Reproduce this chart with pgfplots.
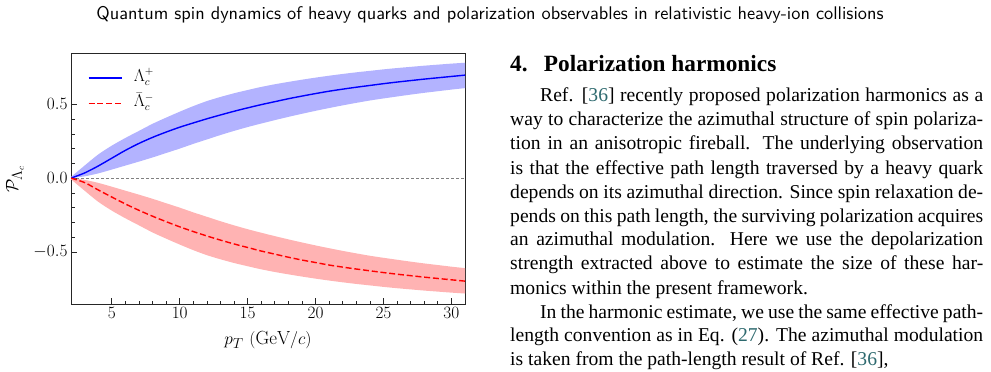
\documentclass[border=0pt]{standalone}
\usepackage{fontspec}
\usepackage{pgfplots}
\pgfplotsset{compat=1.18}
\usepackage{pgfplotstable}
\usepgfplotslibrary{fillbetween}
\newfontfamily\bodyfont{Liberation Serif}
\definecolor{refc}{RGB}{45,105,110}
\definecolor{bandblue}{RGB}{179,179,255}
\definecolor{bandred}{RGB}{255,179,179}
\definecolor{lineblue}{RGB}{0,0,255}
\definecolor{linered}{RGB}{255,0,0}

% Polarization of Lambda_c^+ (c, band lo..hi) and anti-Lambda_c^- (rc, band rlo..rhi)
\pgfplotstableread{
pt  c      lo     hi     rc      rlo     rhi
2   0.000  0.000  0.008  0.000   -0.008  0.000
3   0.035  0.012  0.085  -0.030  -0.085  -0.012
4   0.082  0.032  0.160  -0.080  -0.160  -0.032
5   0.135  0.058  0.220  -0.128  -0.220  -0.058
6   0.188  0.085  0.272  -0.175  -0.272  -0.085
7   0.235  0.112  0.320  -0.218  -0.320  -0.112
8   0.276  0.140  0.368  -0.258  -0.368  -0.140
9   0.312  0.170  0.410  -0.295  -0.410  -0.170
10  0.345  0.200  0.450  -0.330  -0.450  -0.200
11  0.374  0.232  0.488  -0.362  -0.488  -0.232
12  0.402  0.262  0.522  -0.392  -0.522  -0.262
13  0.428  0.292  0.550  -0.420  -0.550  -0.292
14  0.453  0.320  0.575  -0.446  -0.575  -0.320
15  0.476  0.346  0.597  -0.470  -0.597  -0.346
16  0.498  0.370  0.618  -0.494  -0.618  -0.370
17  0.518  0.393  0.636  -0.515  -0.636  -0.393
18  0.538  0.415  0.652  -0.536  -0.652  -0.415
19  0.556  0.436  0.667  -0.555  -0.667  -0.436
20  0.573  0.456  0.681  -0.572  -0.681  -0.456
21  0.589  0.475  0.694  -0.589  -0.694  -0.475
22  0.603  0.493  0.706  -0.603  -0.706  -0.493
23  0.616  0.510  0.717  -0.616  -0.717  -0.510
24  0.628  0.526  0.727  -0.628  -0.727  -0.526
25  0.640  0.540  0.737  -0.640  -0.737  -0.540
26  0.651  0.553  0.746  -0.651  -0.746  -0.553
27  0.661  0.566  0.754  -0.661  -0.754  -0.566
28  0.671  0.578  0.762  -0.671  -0.762  -0.578
29  0.680  0.589  0.769  -0.680  -0.769  -0.589
30  0.689  0.600  0.776  -0.689  -0.776  -0.600
31  0.698  0.610  0.782  -0.698  -0.782  -0.610
}\poltab

% one typeset line of the body text, stretched to the given width
\newcommand{\jline}[4]{\node[anchor=base west, inner sep=0pt] at (#1pt,#2pt)
  {\bodyfont\fontsize{19.6}{24}\selectfont\makebox[#3pt][s]{#4}};}
\newcommand{\nline}[3]{\node[anchor=base west, inner sep=0pt] at (#1pt,#2pt)
  {\bodyfont\fontsize{19.6}{24}\selectfont #3};}
\newcommand{\rf}[1]{\textcolor{refc}{#1}}

\begin{document}
\begin{tikzpicture}
% page frame
\path (0pt,0pt) rectangle (991pt,372pt);

% running head
\node[anchor=base, inner sep=0pt] at (490pt,352pt)
  {\resizebox{787pt}{!}{\sffamily Quantum spin dynamics of heavy quarks and polarization observables in relativistic heavy-ion collisions}};

\begin{axis}[
  at={(71pt,67.7pt)}, anchor=south west,
  scale only axis, width=394pt, height=251.3pt,
  xmin=2, xmax=31, ymin=-0.855, ymax=0.848,
  xtick={5,10,15,20,25,30}, minor x tick num=4,
  ytick={-0.5,0,0.5}, minor y tick num=4,
  yticklabel style={/pgf/number format/.cd, fixed, fixed zerofill, precision=1},
  tick align=inside, xtick pos=left, ytick pos=left,
  major tick length=6pt, minor tick length=3.5pt,
  axis line style={black!85, line width=0.9pt},
  every tick/.style={black!85, line width=0.7pt},
  tick label style={font=\fontsize{16}{19}\selectfont},
  % dashed zero reference line
  extra y ticks={0}, extra y tick labels={},
  extra y tick style={grid=major, major tick length=0pt,
    major grid style={draw=gray, line width=0.7pt, dash pattern=on 3pt off 2pt}},
  xlabel={$p_T\ (\mathrm{GeV}/c)$},
  ylabel={$\mathcal{P}_{\Lambda_c}$},
  every axis x label/.style={at={(rel axis cs:0.5,0)}, anchor=base, yshift=-40pt, font=\fontsize{19}{22}\selectfont},
  every axis y label/.style={at={(rel axis cs:-0.1421,0.5)}, anchor=center, rotate=90, font=\fontsize{19}{22}\selectfont},
  legend style={draw=none, fill=none, at={(rel axis cs:0.035,0.945)}, anchor=north west,
    font=\fontsize{16}{19}\selectfont, row sep=7.6pt,
    nodes={inner sep=0pt, text height=12pt, text depth=6pt}},
  legend cell align=left,
]
% uncertainty bands
\addplot[name path=bhi, draw=none, forget plot, smooth] table[x=pt,y=hi]{\poltab};
\addplot[name path=blo, draw=none, forget plot, smooth] table[x=pt,y=lo]{\poltab};
\addplot[fill=bandblue, draw=none, forget plot] fill between[of=bhi and blo];
\addplot[name path=rhi, draw=none, forget plot, smooth] table[x=pt,y=rhi]{\poltab};
\addplot[name path=rlo, draw=none, forget plot, smooth] table[x=pt,y=rlo]{\poltab};
\addplot[fill=bandred, draw=none, forget plot] fill between[of=rhi and rlo];
% central curves
\addplot[color=lineblue, line width=1.4pt, smooth, forget plot] table[x=pt,y=c]{\poltab};
\addplot[color=linered, line width=1.4pt, smooth, dash pattern=on 6pt off 2.8pt, forget plot] table[x=pt,y=rc]{\poltab};
% legend samples: a solid stroke and a stroke built from short dashes
\addlegendimage{legend image code/.code={%
  \draw[color=lineblue, line width=1.4pt] (0pt,0pt) -- (33pt,0pt); \path (45pt,0pt);}}
\addlegendentry{$\Lambda_c^+$}
\addlegendimage{legend image code/.code={%
  \foreach \s in {0,8.8,17.6,26.4}{\draw[color=linered, line width=1.4pt] (\s pt,0pt) -- ++(6pt,0pt);}
  \path (45pt,0pt);}}
\addlegendentry{$\bar{\Lambda}_c^-$}
\end{axis}

% section heading
\node[anchor=base west, inner sep=0pt] at (510pt,300.3pt)
  {\bodyfont\bfseries\fontsize{23.3}{28}\selectfont 4.\hspace{0.7em}Polarization harmonics};

% body text
\jline{540}{270.3}{443}{Ref. [\rf{36}] recently proposed polarization harmonics as a}
\jline{510}{246}{473}{way to characterize the azimuthal structure of spin polariza-}
\jline{510}{222}{473}{tion in an anisotropic fireball. The underlying observation}
\jline{510}{197.7}{473}{is that the effective path length traversed by a heavy quark}
\jline{510}{173.7}{473}{depends on its azimuthal direction. Since spin relaxation de-}
\jline{510}{149.3}{473}{pends on this path length, the surviving polarization acquires}
\jline{510}{126}{473}{an azimuthal modulation. Here we use the depolarization}
\jline{510}{102}{473}{strength extracted above to estimate the size of these har-}
\nline{510}{77.7}{monics within the present framework.}
\jline{540}{53.7}{443}{In the harmonic estimate, we use the same effective path-}
\jline{510}{30}{473}{length convention as in Eq. (\rf{27}). The azimuthal modulation}
\nline{510}{6}{is taken from the path-length result of Ref. [\rf{36}],}
\end{tikzpicture}
\end{document}
